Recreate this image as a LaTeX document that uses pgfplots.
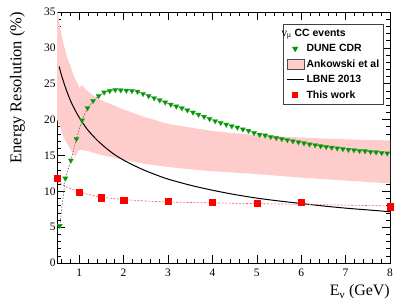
\documentclass[border=0pt]{standalone}
\usepackage{fontspec}
\setmainfont{Liberation Serif}
\setsansfont{Liberation Sans}
\usepackage{pgfplots}
\pgfplotsset{compat=1.18}
\usepgfplotslibrary{fillbetween}
\usepackage{pgfplotstable}

\definecolor{bandpink}{RGB}{255,204,204}
\definecolor{dgreen}{RGB}{0,150,0}
\definecolor{fitred}{RGB}{255,90,90}

\pgfplotstableread{
x y
0.5625 5.2
0.6875 11.8
0.8125 14.3
0.9375 17.3
1.0625 19.9
1.1875 21.6
1.3125 22.6
1.4375 23.3
1.5625 23.8
1.6875 24.0
1.8125 24.15
1.9375 24.1
2.0625 24.05
2.1875 24.0
2.3125 23.9
2.4375 23.6
2.5625 23.3
2.6875 23.0
2.8125 22.7
2.9375 22.4
3.0625 22.1
3.1875 21.85
3.3125 21.6
3.4375 21.3
3.5625 21.0
3.6875 20.7
3.8125 20.4
3.9375 20.1
4.0625 19.8
4.1875 19.55
4.3125 19.3
4.4375 19.1
4.5625 18.9
4.6875 18.65
4.8125 18.45
4.9375 18.15
5.0625 17.9
5.1875 17.8
5.3125 17.6
5.4375 17.45
5.5625 17.3
5.6875 17.15
5.8125 17.0
5.9375 16.85
6.0625 16.7
6.1875 16.55
6.3125 16.45
6.4375 16.3
6.5625 16.2
6.6875 16.1
6.8125 16.0
6.9375 15.9
7.0625 15.8
7.1875 15.75
7.3125 15.65
7.4375 15.6
7.5625 15.5
7.6875 15.45
7.8125 15.35
7.9375 15.3
}\dune

\pgfplotstableread{
x y
0.5 11.8
1.0 9.9
1.5 9.1
2.0 8.8
3.0 8.6
4.0 8.45
5.0 8.35
6.0 8.45
8.0 7.85
}\thiswork

\begin{document}
\begin{tikzpicture}
\begin{axis}[
  scale only axis, width=333bp, height=251bp,
  xmin=0.5, xmax=8, ymin=0, ymax=35,
  xtick={1,2,3,4,5,6,7,8}, ytick={0,5,10,15,20,25,30,35},
  minor xtick={0.6,0.8,1.2,1.4,1.6,1.8,2.2,2.4,2.6,2.8,3.2,3.4,3.6,3.8,4.2,4.4,4.6,4.8,5.2,5.4,5.6,5.8,6.2,6.4,6.6,6.8,7.2,7.4,7.6,7.8},
  minor ytick={1,2,3,4,6,7,8,9,11,12,13,14,16,17,18,19,21,22,23,24,26,27,28,29,31,32,33,34},
  tick align=inside, xtick pos=both, ytick pos=both,
  major tick length=8bp, minor tick length=4bp,
  axis line style={black, line width=0.6bp},
  every tick/.style={black, line width=0.5bp},
  /pgf/number format/assume math mode=true,
  ticklabel style={font=\rmfamily\fontsize{11.5}{12}\selectfont},
  xticklabel style={yshift=-2.5bp},
  yticklabel style={xshift=2bp},
  xlabel={E\textsubscript{ν} (GeV)},
  ylabel={Energy Resolution (\%)},
  xlabel style={at={(axis description cs:1,-0.085)}, anchor=north east, inner sep=0pt, font=\rmfamily\fontsize{16}{18}\selectfont},
  ylabel style={at={(axis description cs:-0.096,1)}, anchor=south east, inner sep=0pt, font=\rmfamily\fontsize{16.5}{18}\selectfont},
  legend style={at={(axis description cs:0.982,0.952)}, anchor=north east, draw=black!75, fill=white, line width=0.6bp,
     font=\sffamily\bfseries\fontsize{10.5}{12}\selectfont, row sep=2.6bp, inner sep=2.5bp},
  legend cell align=left,
]
% Ankowski et al band
\addplot[name path=up, draw=none, forget plot] coordinates {
(0.5,35.5)(0.55,33.6)(0.6,31.9)(0.65,30.5)(0.7,29.3)(0.75,28.3)(0.8,27.5)(0.85,26.6)(0.9,25.8)(0.95,25.2)(0.98,24.8)(1.0,24.4)(1.06,24.8)(1.1,24.5)(1.2,23.9)(1.35,23.2)(1.5,22.7)(1.7,22.2)(2.0,21.4)(2.5,20.3)(3.0,19.4)(3.5,18.9)(4.0,18.4)(4.5,18.1)(5.0,17.85)(5.5,17.65)(6.0,17.5)(6.5,17.35)(7.0,17.25)(7.5,17.15)(8.0,17.1)};
\addplot[name path=lo, draw=none, forget plot] coordinates {
(0.5,20.0)(0.55,19.3)(0.6,18.4)(0.65,17.5)(0.7,16.9)(0.75,16.4)(0.8,15.9)(0.85,15.3)(0.9,14.8)(0.95,15.2)(0.98,15.7)(1.05,15.8)(1.2,15.6)(1.5,15.05)(2.0,14.4)(2.5,13.8)(3.0,13.4)(3.5,13.05)(4.0,12.8)(4.5,12.6)(5.0,12.4)(5.5,12.15)(6.0,11.9)(6.5,11.7)(7.0,11.5)(7.5,11.3)(8.0,11.1)};
\addplot[bandpink, draw=none, forget plot] fill between[of=up and lo];
% LBNE 2013
\addplot[black, line width=1bp, smooth, forget plot] coordinates {
(0.55,27.4)(0.6,26.2)(0.7,24.3)(0.8,22.7)(0.9,21.4)(1.0,20.3)(1.1,19.35)(1.2,18.5)(1.4,17.15)(1.6,16.05)(1.8,15.1)(2.0,14.35)(2.25,13.55)(2.5,12.85)(2.75,12.25)(3.0,11.7)(3.5,10.85)(4.0,10.15)(4.5,9.55)(5.0,9.05)(5.5,8.65)(6.0,8.3)(6.5,7.95)(7.0,7.65)(7.5,7.4)(8.0,7.15)};
% fit to this work
\addplot[fitred, line width=0.6bp, dash pattern=on 2bp off 1.5bp, smooth, forget plot] coordinates {
(0.5,11.4)(0.6,11.0)(0.75,10.5)(1.0,9.95)(1.25,9.5)(1.5,9.2)(2.0,8.85)(2.5,8.65)(3.0,8.5)(4.0,8.38)(5.0,8.28)(6.0,8.18)(7.0,8.07)(8.0,7.95)};
% DUNE CDR
\addplot[black!70, line width=0.5bp, dash pattern=on 1.5bp off 1.5bp, forget plot] table[x=x,y=y] {\dune};
\addplot[only marks, mark=triangle*, mark size=3bp, mark options={rotate=180, fill=dgreen, draw=dgreen!80!white, line width=0.3bp}, forget plot] table[x=x,y=y] {\dune};
% This work
\addplot[only marks, mark=square*, mark size=3.1bp, mark options={fill=red, draw=red}, forget plot] table[x=x,y=y] {\thiswork};

\addlegendimage{empty legend}
\addlegendentry{\hspace*{-25bp}{\rmfamily\mdseries\fontsize{12}{12}\selectfont ν\textsubscript{μ}} CC events}
\addlegendimage{only marks, mark=triangle*, mark size=3bp, mark options={rotate=180, fill=dgreen, draw=dgreen}}
\addlegendentry{DUNE CDR}
\addlegendimage{legend image code/.code={\draw[fill=bandpink, draw=black!70, line width=0.6bp] (0.02cm,-0.17cm) rectangle (0.62cm,0.17cm);}}
\addlegendentry{Ankowski et al}
\addlegendimage{black, line width=1bp}
\addlegendentry{LBNE 2013}
\addlegendimage{only marks, mark=square*, mark size=2.6bp, mark options={fill=red, draw=red}}
\addlegendentry{This work}
\end{axis}
\pgfresetboundingbox
\path[use as bounding box] ([shift={(-57bp,-42bp)}]current axis.south west) rectangle ([shift={(17bp,12bp)}]current axis.north east);
\end{tikzpicture}
\end{document}
